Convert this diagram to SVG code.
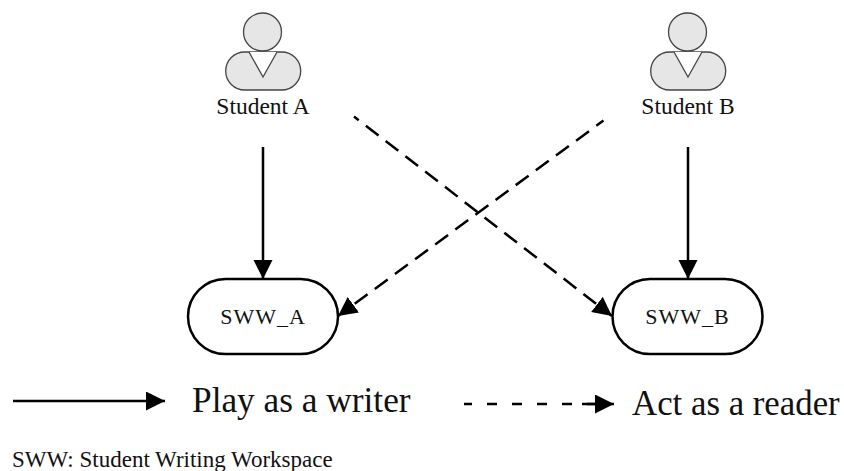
<svg xmlns="http://www.w3.org/2000/svg" width="844" height="471" viewBox="0 0 844 471">
<style>
text{font-family:"Liberation Serif","Times New Roman",serif;fill:#111}
.p{fill:#e6e6e6;stroke:#444;stroke-width:1.3}
.v{fill:#fff;stroke:none}
.o{fill:none;stroke:#444;stroke-width:1.3}
.n{fill:#fff;stroke:#000;stroke-width:2.5}
.l{fill:none;stroke:#000;stroke-width:2.5}
.s{font-size:23.5px;text-anchor:middle}
.w{font-size:22px;text-anchor:middle;letter-spacing:1px}
</style>
<defs>
<marker id="a" markerUnits="userSpaceOnUse" markerWidth="20" markerHeight="20" refX="19" refY="9.5" orient="auto"><path d="M0 0L19 9.5L0 19Z" fill="#000"/></marker>
</defs>
<rect width="844" height="471" fill="#fff"/>
<g id="student-a">
<circle class="p" cx="262.5" cy="32" r="19"/>
<rect class="p" x="225.7" y="52" width="75" height="38" rx="19"/>
<path class="v" d="M249 52L263 77L277 52Z"/>
<path class="o" d="M249 52L263 77L277 52"/>
<text class="s" x="263" y="114">Student A</text>
</g>
<g id="student-b">
<circle class="p" cx="687.5" cy="32" r="19"/>
<rect class="p" x="650.7" y="52" width="75" height="38" rx="19"/>
<path class="v" d="M674 52L688 77L702 52Z"/>
<path class="o" d="M674 52L688 77L702 52"/>
<text class="s" x="688" y="114">Student B</text>
</g>
<g id="sww-a">
<rect class="n" x="188" y="279" width="150" height="75" rx="37.5"/>
<text class="w" x="263" y="324">SWW_A</text>
</g>
<g id="sww-b">
<rect class="n" x="612.5" y="279" width="150" height="75" rx="37.5"/>
<text class="w" x="687.5" y="324">SWW_B</text>
</g>
<g id="connectors">
<path class="l" d="M263 147V279" marker-end="url(#a)"/>
<path class="l" d="M688 147V279" marker-end="url(#a)"/>
<path class="l" stroke-dasharray="16 9" stroke-dashoffset="10" d="M354 116.5L612 316" marker-end="url(#a)"/>
<path class="l" stroke-dasharray="16 9" stroke-dashoffset="7" d="M603.5 120.5L338 316" marker-end="url(#a)"/>
<path class="l" d="M13 401H165" marker-end="url(#a)"/>
<path class="l" stroke-dasharray="10 15" stroke-dashoffset="2" d="M464 404H598"/>
<path class="l" d="M582 404H614" marker-end="url(#a)"/>
</g>
<g id="legend">
<text x="192" y="411.5" font-size="35.3">Play as a writer</text>
<text x="632" y="415" font-size="34.8">Act as a reader</text>
<text x="12" y="466.5" font-size="23">SWW: Student Writing Workspace</text>
</g>
</svg>
